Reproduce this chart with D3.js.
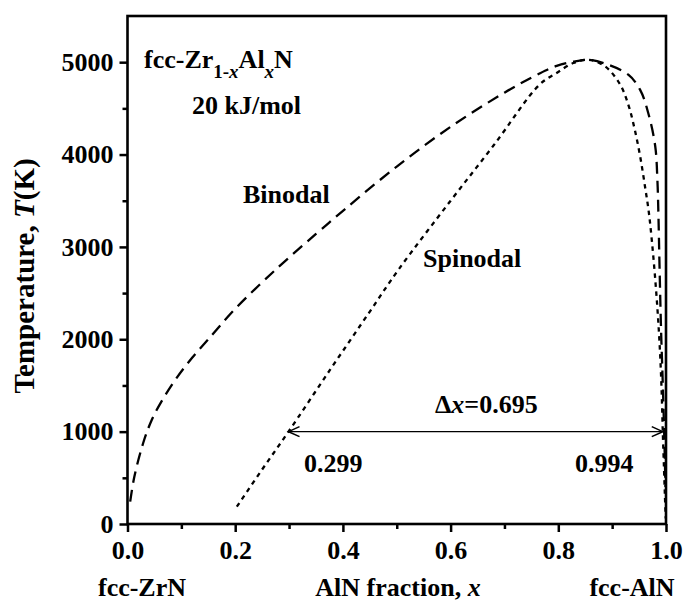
<!DOCTYPE html>
<html>
<head>
<meta charset="utf-8">
<script src="https://cdn.jsdelivr.net/npm/d3@7"></script>
<style>
  body { margin: 0; background: #fff; }
  svg { display: block; }
  text { font-family: "Liberation Serif", "Times New Roman", serif; font-weight: bold; fill: #000; }
</style>
</head>
<body>
<svg id="chart" width="685" height="606"></svg>
<script>
// Miscibility gap of fcc-Zr(1-x)Al(x)N, interaction parameter 20 kJ/mol
const binodalX = [0.005, 0.0127, 0.029, 0.045, 0.0635, 0.091, 0.12, 0.15, 0.2, 0.28, 0.35, 0.404, 0.5, 0.6, 0.7, 0.766, 0.797, 0.828, 0.857, 0.884, 0.93, 0.952, 0.967, 0.98, 0.984, 0.986, 0.988, 0.991, 0.994, 0.997, 0.999];
const binodalT = [242, 512, 874, 1127, 1330, 1580, 1800, 2000, 2330, 2780, 3140, 3410, 3870, 4300, 4670, 4880, 4960, 5005, 5025, 4990, 4865, 4700, 4450, 4090, 3727, 3330, 2788, 2066, 1525, 900, 400];

const spinodalX = [0.203, 0.25, 0.299, 0.376, 0.45, 0.503, 0.6, 0.68, 0.765, 0.797, 0.828, 0.857, 0.887, 0.915, 0.931, 0.942, 0.952, 0.961, 0.968, 0.974, 0.98, 0.985, 0.989, 0.992, 0.994, 0.996, 0.998, 0.9995];
const spinodalT = [187, 590, 1000, 1668, 2300, 2752, 3500, 4100, 4756, 4883, 4991, 5025, 4955, 4756, 4521, 4269, 3980, 3654, 3380, 3050, 2650, 2250, 1850, 1420, 1000, 650, 300, 60];

const xMajorTicks = [0, 0.2, 0.4, 0.6, 0.8, 1.0];
const xMinorTicks = [0.1, 0.3, 0.5, 0.7, 0.9];
const yMajorTicks = [0, 1000, 2000, 3000, 4000, 5000];
const yMinorTicks = [500, 1500, 2500, 3500, 4500];

// spinodal compositions at 1000 K
const gapLeft = 0.299;
const gapRight = 0.994;
const gapT = 1000;

const svg = d3.select("#chart");
const plot = { left: 127.5, right: 666, top: 16, bottom: 524 };

const x = d3.scaleLinear().domain([0, 1]).range([plot.left, plot.right]);
const y = d3.scaleLinear().domain([0, 5500]).range([plot.bottom, plot.top]);

const FS = 26;

// curves
const line = d3.line()
  .x(d => x(d[0]))
  .y(d => y(d[1]))
  .curve(d3.curveCatmullRom.alpha(0.5));

svg.append("path")
  .datum(binodalX.map((v, i) => [v, binodalT[i]]))
  .attr("d", line)
  .attr("fill", "none")
  .attr("stroke", "#000")
  .attr("stroke-width", 2.3)
  .attr("stroke-dasharray", "12,7");

svg.append("path")
  .datum(spinodalX.map((v, i) => [v, spinodalT[i]]))
  .attr("d", line)
  .attr("fill", "none")
  .attr("stroke", "#000")
  .attr("stroke-width", 2.3)
  .attr("stroke-dasharray", "4.5,4.5");

// axes
svg.append("g").attr("transform", `translate(0,${plot.bottom})`)
  .call(d3.axisBottom(x).tickValues(xMajorTicks).tickSize(8).tickPadding(9).tickFormat(d3.format(".1f")));
svg.append("g").attr("transform", `translate(0,${plot.bottom})`)
  .call(d3.axisBottom(x).tickValues(xMinorTicks).tickSize(5).tickFormat(""));

svg.append("g").attr("transform", `translate(${plot.left},0)`)
  .call(d3.axisLeft(y).tickValues(yMajorTicks).tickSize(8).tickPadding(6).tickFormat(d3.format("d")));
svg.append("g").attr("transform", `translate(${plot.left},0)`)
  .call(d3.axisLeft(y).tickValues(yMinorTicks).tickSize(5).tickFormat(""));

svg.selectAll(".domain").remove();
svg.selectAll(".tick line").attr("stroke", "#000").attr("stroke-width", 2.5);
svg.selectAll(".tick text")
  .attr("font-family", null)
  .style("font-size", FS + "px")
  .style("font-weight", "bold")
  .attr("fill", "#000");

// frame
svg.append("rect")
  .attr("x", plot.left).attr("y", plot.top)
  .attr("width", plot.right - plot.left).attr("height", plot.bottom - plot.top)
  .attr("fill", "none").attr("stroke", "#000").attr("stroke-width", 2.6);

// double arrow across the gap at 1000 K
const ay = y(gapT), ax1 = x(gapLeft), ax2 = x(gapRight);
svg.append("line")
  .attr("x1", ax1).attr("x2", ax2).attr("y1", ay).attr("y2", ay)
  .attr("stroke", "#000").attr("stroke-width", 1.2);
svg.append("path")
  .attr("d", `M${ax1 + 11},${ay - 5}L${ax1},${ay}L${ax1 + 11},${ay + 5}M${ax2 - 11},${ay - 5}L${ax2},${ay}L${ax2 - 11},${ay + 5}`)
  .attr("fill", "none").attr("stroke", "#000").attr("stroke-width", 1.6);

// text labels
function label(t, xp, yp, anchor) {
  return svg.append("text").attr("x", xp).attr("y", yp)
    .attr("text-anchor", anchor || "start").style("font-size", FS + "px").text(t);
}

const title = svg.append("text").attr("x", 144).attr("y", 68).style("font-size", FS + "px");
title.append("tspan").text("fcc-Zr");
title.append("tspan").attr("dy", 10).style("font-size", "19px").text("1-");
title.append("tspan").style("font-size", "19px").style("font-style", "italic").text("x");
title.append("tspan").attr("dy", -10).text("Al");
title.append("tspan").attr("dy", 10).style("font-size", "19px").style("font-style", "italic").text("x");
title.append("tspan").attr("dy", -10).text("N");

label("20 kJ/mol", 192, 114);
label("Binodal", 243, 203);
label("Spinodal", 423, 267);

const dx = svg.append("text").attr("x", 435).attr("y", 413).style("font-size", FS + "px");
dx.append("tspan").text("\u0394");
dx.append("tspan").style("font-style", "italic").text("x");
dx.append("tspan").text("=" + d3.format(".3f")(gapRight - gapLeft));

label(d3.format(".3f")(gapLeft), 304, 472);
label(d3.format(".3f")(gapRight), 575, 472);

label("fcc-ZrN", 142, 596, "middle");
const xt = label("AlN fraction, ", 398, 596, "middle");
xt.append("tspan").style("font-style", "italic").text("x");
label("fcc-AlN", 632, 596, "middle");

const yt = svg.append("text")
  .attr("transform", "translate(34,276) rotate(-90)")
  .attr("text-anchor", "middle").style("font-size", "29px");
yt.append("tspan").text("Temperature, ");
yt.append("tspan").style("font-style", "italic").text("T");
yt.append("tspan").text("(K)");
</script>
</body>
</html>
